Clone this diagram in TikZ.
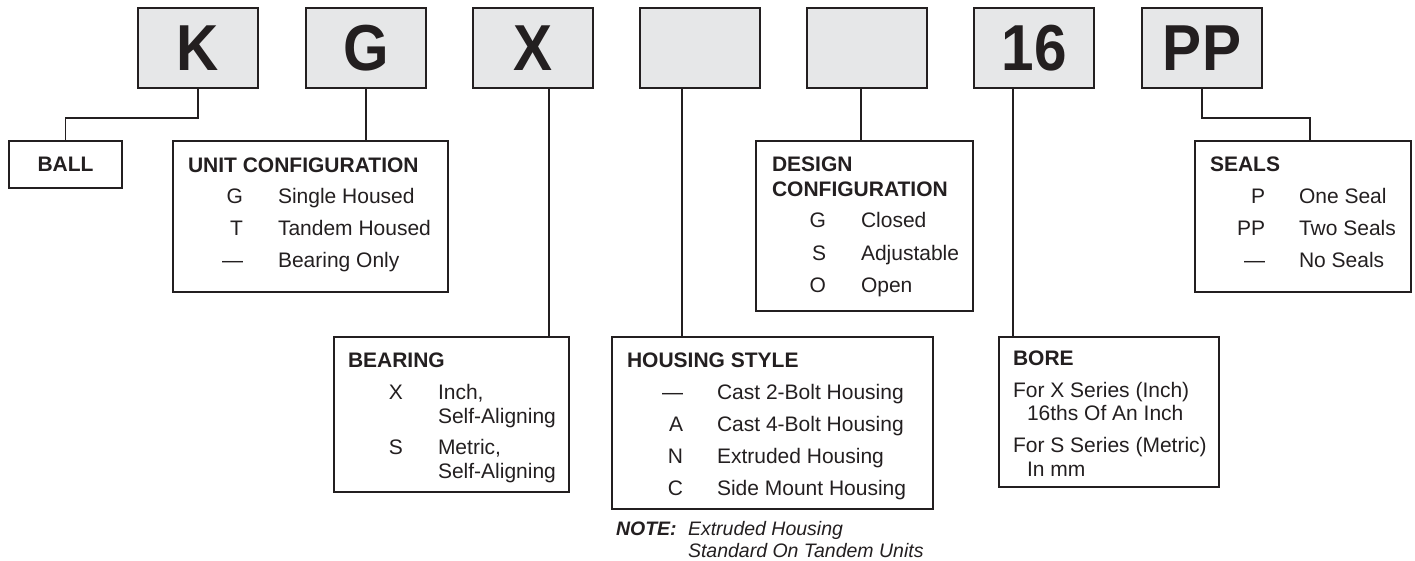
\documentclass[tikz,border=0pt]{standalone}
\usepackage{fontspec}
\setmainfont{Liberation Sans}
\usepackage{graphicx}
\definecolor{ink}{HTML}{231F20}
\definecolor{boxgray}{HTML}{E6E7E8}
\newcommand{\codetxt}[1]{\scalebox{0.9}[1]{\fontsize{65}{70}\selectfont\bfseries #1}}
\begin{document}
\begin{tikzpicture}[x=1pt,y=-1pt,
  every node/.style={inner sep=0pt, outer sep=0pt, text=ink},
  code/.style={draw=ink, line width=2.2pt, fill=boxgray, minimum width=120pt, minimum height=80pt},
  panel/.style={draw=ink, line width=2pt},
  link/.style={draw=ink, line width=1.6pt},
  ttl/.style={anchor=base west, font=\fontsize{21}{25}\selectfont\bfseries},
  key/.style={anchor=base east, font=\fontsize{21}{25}\selectfont},
  dsc/.style={anchor=base west, font=\fontsize{21}{25}\selectfont},
  notetxt/.style={anchor=base west, font=\fontsize{19.5}{23}\selectfont\itshape},
]
\useasboundingbox (0,0) rectangle (1415,561);

% code boxes
\node[code] (K)   at (198,48)  {\codetxt{K}};
\node[code] (G)   at (366,48)  {\codetxt{G}};
\node[code] (X)   at (533,48)  {\codetxt{X}};
\node[code] (B4)  at (700,48)  {};
\node[code] (B5)  at (867,48)  {};
\node[code] (S16) at (1034,48) {\codetxt{16}};
\node[code] (PP)  at (1202,48) {\codetxt{PP}};

% panels
\node[panel, minimum width=113pt, minimum height=47pt, font=\fontsize{21}{25}\selectfont\bfseries] (ball) at (65.5,164.5) {BALL};
\node[panel, minimum width=275pt, minimum height=151pt] (unit)  at (310.5,216.5) {};
\node[panel, minimum width=217pt, minimum height=170pt] (des)   at (864.5,226) {};
\node[panel, minimum width=216pt, minimum height=151pt] (seals) at (1303,216.5) {};
\node[panel, minimum width=235pt, minimum height=155pt] (bear)  at (451.5,414.5) {};
\node[panel, minimum width=321pt, minimum height=172pt] (hous)  at (772.5,423) {};
\node[panel, minimum width=220pt, minimum height=150pt] (bore)  at (1109,412) {};

% connectors
\draw[link] (K.south) -- ++(0,30) -| (ball.north);
\draw[link] (G.south) -- (G.south |- unit.north);
\draw[link] ([xshift=16pt]X.south) -- ([xshift=16pt]X.south |- bear.north);
\draw[link] ([xshift=-18pt]B4.south) -- ([xshift=-18pt]B4.south |- hous.north);
\draw[link] ([xshift=-6pt]B5.south) -- ([xshift=-6pt]B5.south |- des.north);
\draw[link] ([xshift=-21pt]S16.south) -- ([xshift=-21pt]S16.south |- bore.north);
\draw[link] (PP.south) -- ++(0,30) -| ([xshift=7pt]seals.north);

% unit configuration
\node[ttl] (u0) at (188,173) {UNIT CONFIGURATION};
\node[key] (u1k) at (243,204) {G};
\node[dsc] (u1d) at (278,204) {Single Housed};
\node[key] (u2k) at (243,236) {T};
\node[dsc] (u2d) at (278,236) {Tandem Housed};
\node[key] (u3k) at (243,267) {—};
\node[dsc] (u3d) at (278,267) {Bearing Only};

% design configuration
\node[ttl] (d0a) at (772,172) {DESIGN};
\node[ttl] (d0b) at (772,197) {CONFIGURATION};
\node[key] (d1k) at (826,228) {G};
\node[dsc] (d1d) at (861,228) {Closed};
\node[key] (d2k) at (826,260) {S};
\node[dsc] (d2d) at (861,260) {Adjustable};
\node[key] (d3k) at (826,292) {O};
\node[dsc] (d3d) at (861,292) {Open};

% seals
\node[ttl] (s0) at (1210,172) {SEALS};
\node[key] (s1k) at (1265,204) {P};
\node[dsc] (s1d) at (1299,204) {One Seal};
\node[key] (s2k) at (1265,236) {PP};
\node[dsc] (s2d) at (1299,236) {Two Seals};
\node[key] (s3k) at (1265,267) {—};
\node[dsc] (s3d) at (1299,267) {No Seals};

% bearing
\node[ttl] (b0) at (348,367) {BEARING};
\node[key] (b1k) at (403,399) {X};
\node[dsc] (b1d) at (438,399) {Inch,};
\node[dsc] (b1e) at (438,423) {Self-Aligning};
\node[key] (b2k) at (403,454) {S};
\node[dsc] (b2d) at (438,454) {Metric,};
\node[dsc] (b2e) at (438,478) {Self-Aligning};

% housing style
\node[ttl] (h0) at (627,367) {HOUSING STYLE};
\node[key] (h1k) at (683,399) {—};
\node[dsc] (h1d) at (717,399) {Cast 2-Bolt Housing};
\node[key] (h2k) at (683,431) {A};
\node[dsc] (h2d) at (717,431) {Cast 4-Bolt Housing};
\node[key] (h3k) at (683,463) {N};
\node[dsc] (h3d) at (717,463) {Extruded Housing};
\node[key] (h4k) at (683,495) {C};
\node[dsc] (h4d) at (717,495) {Side Mount Housing};

% bore
\node[ttl] (r0) at (1013,365) {BORE};
\node[dsc] (r1) at (1013,397) {For X Series (Inch)};
\node[dsc] (r2) at (1027,420) {16ths Of An Inch};
\node[dsc] (r3) at (1013,452) {For S Series (Metric)};
\node[dsc] (r4) at (1027,476) {In mm};

% note
\node[notetxt, font=\fontsize{19.5}{23}\selectfont\bfseries\itshape] (n0) at (616,535) {NOTE:};
\node[notetxt] (n1) at (688,535) {Extruded Housing};
\node[notetxt] (n2) at (688,557) {Standard On Tandem Units};
\end{tikzpicture}
\end{document}
